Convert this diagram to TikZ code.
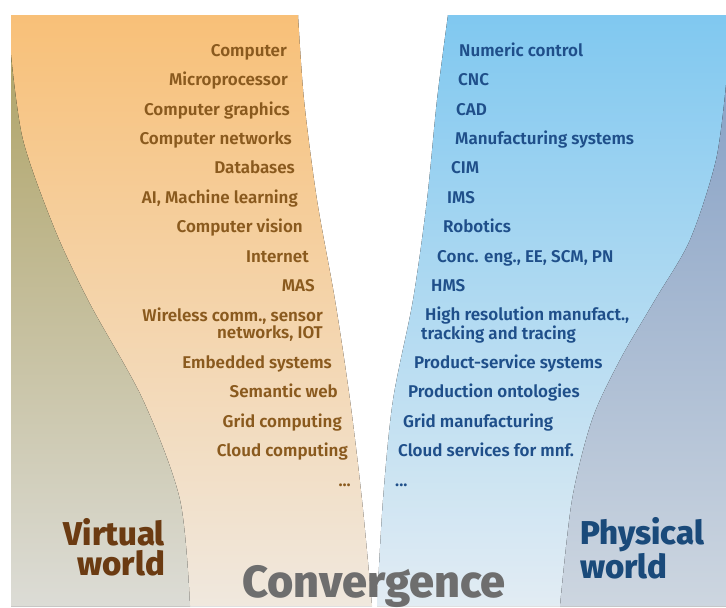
\documentclass[tikz,border=0pt]{standalone}
\usepackage{fontspec}
\setmainfont{Fira Sans}[UprightFont={* SemiBold}, BoldFont={* ExtraBold}]
\usepackage{xcolor}
\usetikzlibrary{positioning}
\definecolor{ochretop}{HTML}{F8C078}
\definecolor{ochrebot}{HTML}{F0E8DE}
\definecolor{olivetop}{HTML}{B0A468}
\definecolor{olivebot}{HTML}{DCDCD6}
\definecolor{skytop}{HTML}{80C8F0}
\definecolor{skybot}{HTML}{E2ECF3}
\definecolor{slatetop}{HTML}{88A2C6}
\definecolor{slatebot}{HTML}{CDD6E0}
\definecolor{virtink}{HTML}{8A5A1E}
\definecolor{virtdark}{HTML}{6B3B12}
\definecolor{physink}{HTML}{1F4F8A}
\definecolor{physdark}{HTML}{1A4A7A}
\definecolor{convink}{HTML}{6E6E6E}
\tikzset{virt/.style={anchor=base east, inner sep=0pt, text=virtink, align=right,
font=\fontsize{17}{17}\selectfont},
phys/.style={anchor=base west, inner sep=0pt, text=physink, align=left,
font=\fontsize{17}{17}\selectfont}}

\begin{document}
\begin{tikzpicture}[x=1pt, y=-1pt, world/.style={inner sep=0pt, font=\bfseries\fontsize{33}{30}\selectfont}]
\useasboundingbox (0,0) rectangle (726,608);
% the two bands
\fill[top color=ochretop, bottom color=ochrebot] (11,15) -- plot[smooth] coordinates {(298,15) (304,100) (317,200) (335,300) (350,400) (362,500) (372,606)} -- (11,606) -- cycle;
\fill[top color=olivetop, bottom color=olivebot] plot[smooth] coordinates {(11,55) (23,140) (55,230) (90,304) (143,400) (180,500) (190,606)} -- (11,606) -- cycle;
\fill[top color=skytop, bottom color=skybot] (726,15) -- plot[smooth] coordinates {(448,15) (437,100) (427,200) (413,300) (393,400) (383,500) (377,606)} -- (726,606) -- cycle;
\fill[top color=slatetop, bottom color=slatebot] plot[smooth] coordinates {(726,85) (716,160) (690,240) (655,300) (620,360) (592,420) (572,500) (560,606)} -- (726,606) -- cycle;
% virtual side
\node[virt] (computer) at (287,56) {Computer};
\node[virt] (micro) at (288,85) {Microprocessor};
\node[virt] (graphics) at (290,115) {Computer graphics};
\node[virt] (networks) at (292,144) {Computer networks};
\node[virt] (databases) at (295,173) {Databases};
\node[virt] (ai) at (298,203) {AI, Machine learning};
\node[virt] (vision) at (303,232) {Computer vision};
\node[virt] (internet) at (309,262) {Internet};
\node[virt] (mas) at (315,291) {MAS};
\node[virt, anchor=east] (wireless) at (323,325) {Wireless comm., sensor\\networks, IOT};
\node[virt] (embedded) at (332,368) {Embedded systems};
\node[virt] (semantic) at (338,397) {Semantic web};
\node[virt] (grid) at (342,427) {Grid computing};
\node[virt] (cloud) at (348,456) {Cloud computing};
\node[virt] (vdots) at (351,486) {...};
% physical side
\node[phys] (nc) at (459,56) {Numeric control};
\node[phys] (cnc) at (458,85) {CNC};
\node[phys] (cad) at (456,115) {CAD};
\node[phys] (mfgsys) at (455,144) {Manufacturing systems};
\node[phys] (cim) at (451,173) {CIM};
\node[phys] (ims) at (447,203) {IMS};
\node[phys] (robotics) at (443,232) {Robotics};
\node[phys] (conc) at (437,262) {Conc. eng., EE, SCM, PN};
\node[phys] (hms) at (431,291) {HMS};
\node[phys, anchor=west] (hires) at (421,325) {\hspace*{4pt}High resolution manufact.,\\tracking and tracing};
\node[phys] (pss) at (414,368) {Product-service systems};
\node[phys] (onto) at (408,397) {Production ontologies};
\node[phys] (gridmfg) at (403,427) {Grid manufacturing};
\node[phys] (cloudmfg) at (398,456) {Cloud services for mnf.};
\node[phys] (pdots) at (395,486) {...};
% labels
\node[world, anchor=east, text=virtdark, align=right] (virtual) at (165,547) {Virtual\\world};
\node[world, anchor=west, text=physdark, align=left] (physical) at (580,548) {Physical\\world};
\node[anchor=base, inner sep=0pt, text=convink, font=\bfseries\fontsize{45}{45}\selectfont] (conv) at (374,597) {Convergence};
\end{tikzpicture}
\end{document}
